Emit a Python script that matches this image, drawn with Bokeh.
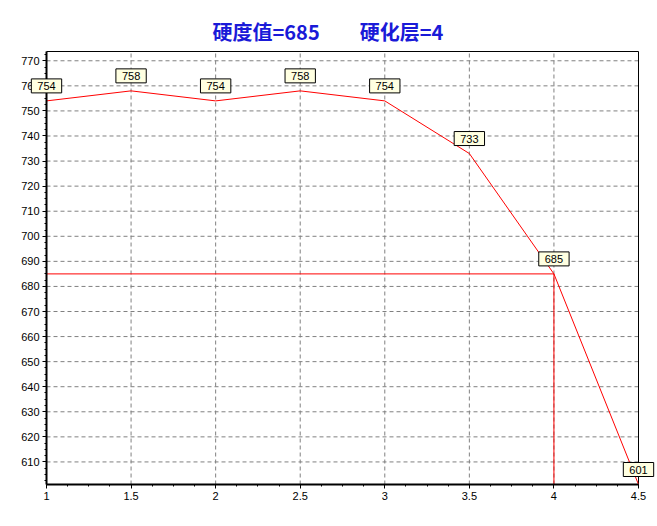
from bokeh.plotting import figure
from bokeh.models import Range1d, FixedTicker, ColumnDataSource, Label
from bokeh.embed import file_html
from bokeh.resources import INLINE

# ---- data ----
depth = [1, 1.5, 2, 2.5, 3, 3.5, 4, 4.5]
hardness = [754, 758, 754, 758, 754, 733, 685, 601]
hv_value = 685
layer_value = 4
x_ticks = [1, 1.5, 2, 2.5, 3, 3.5, 4, 4.5]
x_tick_labels = ["1", "1.5", "2", "2.5", "3", "3.5", "4", "4.5"]
y_ticks = [610, 620, 630, 640, 650, 660, 670, 680, 690, 700, 710, 720, 730, 740, 750, 760, 770]
y_bounds = [601, 773.7]
x_bounds = [1, 4.5]

# ---- layout (pixels) ----
W, H = 657, 524
AX_L, AX_R, AX_T, AX_B = 46, 638, 51, 484      # visible plot box
FR_L, FR_R, FR_T, FR_B = 12, 656, 50, 504      # real drawing frame (room for labels)
xs = (AX_R - AX_L) / (x_bounds[1] - x_bounds[0])
ys = (AX_B - AX_T) / (y_bounds[1] - y_bounds[0])
x_start = x_bounds[0] - (AX_L - FR_L) / xs
x_end = x_bounds[1] + (FR_R - AX_R) / xs
y_start = y_bounds[0] - (FR_B - AX_B) / ys
y_end = y_bounds[1] + (AX_T - FR_T) / ys

p = figure(width=W, height=H, output_backend="svg", toolbar_location=None,
           x_range=Range1d(x_start, x_end), y_range=Range1d(y_start, y_end),
           min_border_left=FR_L, min_border_right=W - FR_R, min_border_top=FR_T,
           min_border_bottom=H - FR_B)

p.title.text = f"硬度值={hv_value}\u3000\u3000硬化层={layer_value}"
p.title.text_font = "Noto Sans CJK SC"
p.title.text_font_size = "20px"
p.title.text_font_style = "bold"
p.title.text_color = "#1a1ad8"
p.title.align = "left"
p.title.offset = 166 + (AX_L - FR_L)

p.background_fill_color = "white"
p.border_fill_color = "white"
p.outline_line_color = None
p.xgrid.visible = False
p.ygrid.visible = False

# grid lines (dashed) inside the visible box
gx = [t for t in x_ticks if t > x_bounds[0]]
p.segment(x0=gx, y0=[y_bounds[0]] * len(gx), x1=gx, y1=[y_bounds[1]] * len(gx),
          line_color="#808080", line_dash="4 3", line_width=1)
p.segment(x0=[x_bounds[0]] * len(y_ticks), y0=y_ticks, x1=[x_bounds[1]] * len(y_ticks), y1=y_ticks,
          line_color="#808080", line_dash="4 3", line_width=1)

# box top / right edges
p.line([x_bounds[0], x_bounds[1], x_bounds[1]], [y_bounds[1], y_bounds[1], y_bounds[0]],
       line_color="black", line_width=1)

x_minor = [x_bounds[0] + i * 0.125 for i in range(29)]
y_minor = [602.5 + i * 2.5 for i in range(69) if 602.5 + i * 2.5 <= y_bounds[1]]
p.xaxis.ticker = FixedTicker(ticks=x_ticks, minor_ticks=x_minor)
p.yaxis.ticker = FixedTicker(ticks=y_ticks, minor_ticks=y_minor)
p.xaxis.major_label_overrides = {t: l for t, l in zip(x_ticks, x_tick_labels)}
p.xaxis.fixed_location = y_bounds[0]
p.yaxis.fixed_location = x_bounds[0]
p.xaxis.bounds = tuple(x_bounds)
p.yaxis.bounds = tuple(y_bounds)

for ax in (p.xaxis, p.yaxis):
    ax.axis_line_width = 2
    ax.axis_line_color = "black"
    ax.major_tick_in = 0
    ax.major_tick_out = 4
    ax.minor_tick_in = 0
    ax.minor_tick_out = 2
    ax.major_tick_line_color = "black"
    ax.minor_tick_line_color = "black"
    ax.major_label_text_font = "Liberation Sans"
    ax.major_label_text_font_size = "11px"
    ax.major_label_text_color = "black"
    ax.major_label_standoff = 3

# reference lines
p.line([x_bounds[0], layer_value], [hv_value, hv_value], line_color="red", line_width=1)
p.line([layer_value, layer_value], [hv_value, y_bounds[0]], line_color="red", line_width=1)

src = ColumnDataSource(dict(x=depth, y=hardness))
p.line("x", "y", source=src, line_color="red", line_width=1)

for xv, yv in zip(depth, hardness):
    p.add_layout(Label(x=xv, y=yv, text=str(yv), text_align="center", text_baseline="bottom",
                       y_offset=8, text_font="Liberation Sans", text_font_size="11px",
                       text_color="black", background_fill_color="#FFFFE1",
                       border_line_color="black", border_line_width=1, padding=(6, 3)))

open("out.html", "w").write(file_html(p, INLINE))
